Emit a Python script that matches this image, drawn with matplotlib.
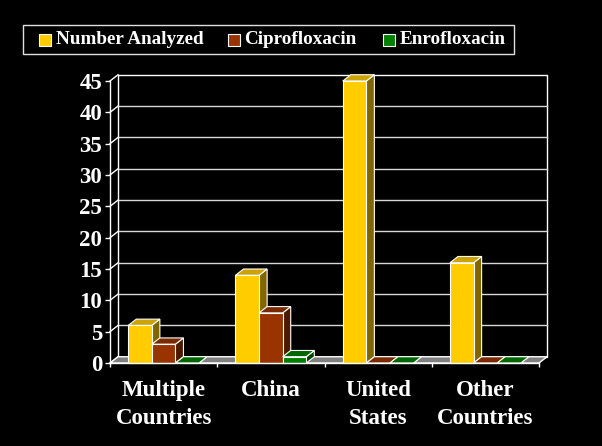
import matplotlib
matplotlib.use("Agg")
import matplotlib.pyplot as plt
from matplotlib.patches import Polygon, Rectangle
import numpy as np

categories = ["Multiple\nCountries", "China", "United\nStates", "Other\nCountries"]
series_names = ["Number Analyzed", "Ciprofloxacin", "Enrofloxacin"]
number_analyzed = [6, 14, 45, 16]
ciprofloxacin = [3, 8, 0, 0]
enrofloxacin = [0, 1, 0, 0]
y_ticks = [0, 5, 10, 15, 20, 25, 30, 35, 40, 45]

series = [number_analyzed, ciprofloxacin, enrofloxacin]
front_colors = ["#FFCC00", "#993300", "#008000"]
top_colors = ["#CCA300", "#7A2900", "#006600"]
side_colors = ["#806600", "#4D1A00", "#004000"]

FONT = "Liberation Serif"
W, H = 602, 446
fig = plt.figure(figsize=(W / 100, H / 100), dpi=100, facecolor="black")
ax = fig.add_axes([110 / W, 83 / H, 429 / W, 282 / H])
ax.set_facecolor("none")
x0, x1 = -0.5, len(categories) - 0.5
ax.set_xlim(x0, x1)
ax.set_ylim(0, 45)

DX, DY = 0.075, 1.0
bw = 0.22
edge = "white"

# back wall
ax.add_patch(Rectangle((x0 + DX, DY), x1 - x0, 45, facecolor="black",
                       edgecolor=edge, lw=1.0, clip_on=False, zorder=0))
for t in y_ticks[1:-1]:
    ax.plot([x0 + DX, x1 + DX], [t + DY, t + DY], color="#d8d8d8", lw=1.0,
            clip_on=False, zorder=1)
for t in y_ticks:
    ax.plot([x0, x0 + DX], [t, t + DY], color=edge, lw=1.0, clip_on=False, zorder=1)
# floor
ax.add_patch(Polygon([(x0, 0), (x1, 0), (x1 + DX, DY), (x0 + DX, DY)],
                     closed=True, facecolor="#808080", edgecolor=edge, lw=1.0,
                     clip_on=False, zorder=1))

z = 2
for i in range(len(categories)):
    for j, vals in enumerate(series):
        v = vals[i]
        xl = i - 1.5 * bw + j * bw
        ax.add_patch(Polygon([(xl + bw, 0), (xl + bw + DX, DY), (xl + bw + DX, v + DY), (xl + bw, v)],
                             closed=True, facecolor=side_colors[j], edgecolor=edge, lw=0.8,
                             clip_on=False, zorder=z))
        ax.add_patch(Polygon([(xl, v), (xl + bw, v), (xl + bw + DX, v + DY), (xl + DX, v + DY)],
                             closed=True, facecolor=top_colors[j], edgecolor=edge, lw=0.8,
                             clip_on=False, zorder=z))
        if v > 0:
            ax.bar([xl], [v], width=bw, align="edge", color=front_colors[j],
                   edgecolor=edge, linewidth=0.8, zorder=z + 0.5, clip_on=False)
        z += 1

for s in ["top", "right"]:
    ax.spines[s].set_visible(False)
for s in ["left", "bottom"]:
    ax.spines[s].set_color("white")
    ax.spines[s].set_linewidth(1.0)
    ax.spines[s].set_zorder(50)

ax.set_yticks(y_ticks)
ax.set_yticklabels([str(t) for t in y_ticks], fontfamily=FONT, fontweight="bold",
                   fontsize=16.5, color="white")
ax.tick_params(axis="y", colors="white", direction="out", length=3.6, width=1.0, pad=2)

ax.set_xticks(np.arange(-0.5, len(categories), 1.0))
ax.set_xticklabels([])
ax.set_xticks(np.arange(len(categories)), minor=True)
ax.set_xticklabels(categories, minor=True, fontfamily=FONT, fontweight="bold",
                   fontsize=16.5, color="white", linespacing=1.42)
ax.tick_params(axis="x", which="major", colors="white", direction="out", length=3, width=1.0)
ax.tick_params(axis="x", which="minor", length=0, pad=12.5, colors="white")

# legend box
fig.patches.append(Rectangle((23 / W, 1 - 54 / H), 491 / W, 29 / H, transform=fig.transFigure,
                             facecolor="black", edgecolor="#e0e0e0", lw=1.0))
hx = [39, 228, 383]
tx = [56, 244, 400]
for k, name in enumerate(series_names):
    fig.patches.append(Rectangle((hx[k] / W, 1 - 46 / H), 12 / W, 12 / H, transform=fig.transFigure,
                                 facecolor=front_colors[k], edgecolor="white", lw=0.8))
    fig.text(tx[k] / W, 1 - 40 / H, name, fontfamily=FONT, fontweight="bold",
             fontsize=13.8, color="white", va="center", ha="left")

fig.savefig("out.png", dpi=100, facecolor="black")
